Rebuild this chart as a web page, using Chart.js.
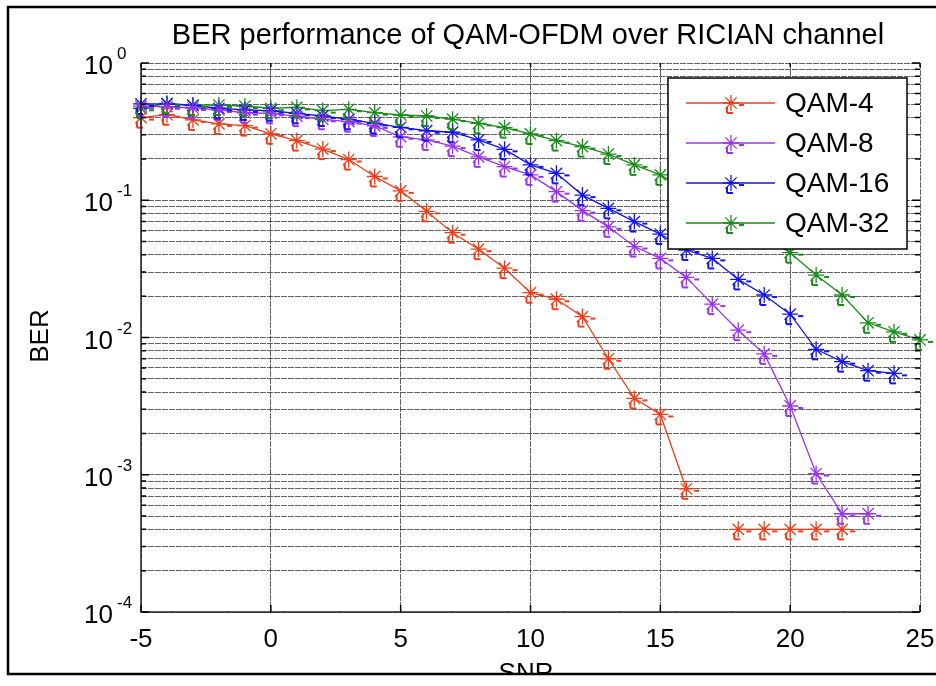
<!DOCTYPE html>
<html>
<head>
<meta charset="utf-8">
<script src="https://cdn.jsdelivr.net/npm/chart.js@4.4.0/dist/chart.umd.min.js"></script>
<style>
  html, body { margin: 0; padding: 0; background: #fff; }
  #wrap { width: 936px; height: 686px; }
</style>
</head>
<body>
<div id="wrap"><canvas id="berChart" width="936" height="686"></canvas></div>
<script>
// SNR values (dB)
var snr = [-5, -4, -3, -2, -1, 0, 1, 2, 3, 4, 5, 6, 7, 8, 9, 10, 11, 12, 13, 14, 15, 16, 17, 18, 19, 20, 21, 22, 23, 24, 25];

// BER, null where nothing is plotted
var qam4 = [0.40, 0.42, 0.385, 0.36, 0.35, 0.305, 0.272, 0.236, 0.198, 0.149, 0.117, 0.083, 0.058, 0.044, 0.032, 0.0212, 0.019, 0.0142, 0.0070, 0.0036, 0.00275, 0.00079, null, 0.0004, 0.0004, 0.0004, 0.0004, 0.0004, null, null, null];
var qam8 = [0.485, 0.48, 0.47, 0.455, 0.434, 0.43, 0.41, 0.389, 0.374, 0.348, 0.29, 0.275, 0.248, 0.207, 0.176, 0.153, 0.1155, 0.084, 0.064, 0.046, 0.0377, 0.0274, 0.0175, 0.0113, 0.0076, 0.00317, 0.00102, 0.00052, 0.00052, null, null];
var qam16 = [0.503, 0.503, 0.49, 0.468, 0.455, 0.449, 0.43, 0.411, 0.389, 0.363, 0.34, 0.321, 0.313, 0.275, 0.235, 0.181, 0.157, 0.109, 0.0873, 0.0699, 0.0567, 0.0434, 0.0377, 0.0265, 0.0204, 0.0148, 0.0082, 0.00667, 0.00573, 0.00548, null];
var qam32 = [0.468, 0.508, 0.494, 0.494, 0.486, 0.468, 0.475, 0.45, 0.46, 0.435, 0.418, 0.411, 0.39, 0.363, 0.338, 0.304, 0.272, 0.246, 0.217, 0.181, 0.153, 0.118, 0.092, 0.071, 0.054, 0.0415, 0.0285, 0.0204, 0.0128, 0.011, 0.0096];

var seriesNames = ["QAM-4", "QAM-8", "QAM-16", "QAM-32"];
var seriesColors = ["#ee3d1a", "#9933ee", "#1414f0", "#1a8a1a"];

var xTicks = [-5, 0, 5, 10, 15, 20, 25];
var yDecades = [-4, -3, -2, -1, 0];

// grid lines for the log axis: 1..9 x 10^n
var yGrid = [];
for (var d = -4; d < 0; d++) {
    for (var m = 1; m < 10; m++) yGrid.push(m * Math.pow(10, d));
}
yGrid.push(1);

var FONT = "'Liberation Sans', Arial, sans-serif";

function toPoints(arr) {
    var out = [];
    for (var i in snr) out.push({ x: snr[i], y: arr[i] });
    return out;
}

var allSeries = [qam4, qam8, qam16, qam32];
var datasets = [];
for (var k = 0; k < allSeries.length; k++) {
    datasets.push({
        label: seriesNames[k],
        data: toPoints(allSeries[k]),
        borderColor: seriesColors[k],
        backgroundColor: seriesColors[k],
        borderWidth: 1.3,
        pointStyle: "star",
        pointRadius: 8,
        pointBorderWidth: 1.3,
        pointBorderColor: seriesColors[k],
        spanGaps: false,
        tension: 0,
        clip: false,
    });
}

var decor = {
    id: "decor",
    beforeDraw: function (chart) {
        var c = chart.ctx;
        c.save();
        c.fillStyle = "#fff";
        c.fillRect(0, 0, chart.width, chart.height);
        c.restore();
    },
    afterDatasetsDraw: function (chart) {
        // little dash shadows that sit next to each marker
        var c = chart.ctx;
        c.save();
        chart.data.datasets.forEach(function (ds, i) {
            var meta = chart.getDatasetMeta(i);
            c.fillStyle = ds.borderColor;
            meta.data.forEach(function (pt) {
                if (pt.skip) return;
                c.fillRect(pt.x + 8, pt.y + 1, 5, 2);
                c.fillRect(pt.x - 4, pt.y + 9, 6, 2);
                c.fillRect(pt.x - 5, pt.y + 4, 2, 6);
            });
        });
        c.restore();
    },
    afterDraw: function (chart) {
        var c = chart.ctx;
        var a = chart.chartArea;
        var xs = chart.scales.x;
        var ys = chart.scales.y;
        c.save();

        // axis box
        c.strokeStyle = "#222";
        c.lineWidth = 1.5;
        c.beginPath();
        c.moveTo(a.left, a.top);
        c.lineTo(a.left, a.bottom);
        c.lineTo(a.right, a.bottom);
        c.stroke();

        // inward ticks
        c.lineWidth = 1.5;
        c.strokeStyle = "#000";
        yGrid.forEach(function (v) {
            var y = ys.getPixelForValue(v);
            var len = Math.abs(Math.log10(v) - Math.round(Math.log10(v))) < 1e-6 ? 8 : 5;
            c.beginPath();
            c.moveTo(a.left, y); c.lineTo(a.left + len, y);
            c.moveTo(a.right, y); c.lineTo(a.right - len, y);
            c.stroke();
        });
        xTicks.forEach(function (v) {
            var x = xs.getPixelForValue(v);
            c.beginPath();
            c.moveTo(x, a.bottom); c.lineTo(x, a.bottom - 7);
            c.moveTo(x, a.top); c.lineTo(x, a.top + 4);
            c.stroke();
        });

        // tick labels
        c.fillStyle = "#000";
        c.textBaseline = "alphabetic";
        c.font = "26px " + FONT;
        c.textAlign = "center";
        xTicks.forEach(function (v) {
            c.fillText(String(v), xs.getPixelForValue(v), a.bottom + 35);
        });
        yDecades.forEach(function (p) {
            var y = ys.getPixelForValue(Math.pow(10, p));
            c.font = "26px " + FONT;
            c.textAlign = "right";
            c.fillText("10", 113, y + 11);
            c.font = "17px " + FONT;
            c.textAlign = "left";
            c.fillText(String(p), 117, y - 4);
        });

        // title and axis titles
        c.font = "29px " + FONT;
        c.textAlign = "center";
        c.fillText("BER performance of QAM-OFDM over RICIAN channel", 528, 44);
        c.font = "26px " + FONT;
        c.fillText("SNR", 526, 681);
        c.save();
        c.translate(48, 336);
        c.rotate(-Math.PI / 2);
        c.fillText("BER", 0, 0);
        c.restore();

        // legend
        var lx = 668, ly = 78, lw = 239, lh = 171;
        c.fillStyle = "#fff";
        c.fillRect(lx, ly, lw, lh);
        c.strokeStyle = "#000";
        c.lineWidth = 1.5;
        c.strokeRect(lx, ly, lw, lh);
        seriesNames.forEach(function (name, i) {
            var yy = 103 + i * 40;
            var col = seriesColors[i];
            c.strokeStyle = col;
            c.fillStyle = col;
            c.lineWidth = 1.3;
            c.beginPath();
            c.moveTo(686, yy); c.lineTo(775, yy);
            c.stroke();
            Chart.helpers.drawPoint(c, { pointStyle: "star", radius: 8, rotation: 0, borderWidth: 1.3 }, 731, yy);
            c.fillRect(739, yy + 1, 5, 2);
            c.fillRect(727, yy + 9, 6, 2);
            c.fillRect(726, yy + 4, 2, 6);
            c.fillStyle = "#000";
            c.font = "28px " + FONT;
            c.textAlign = "left";
            c.textBaseline = "middle";
            c.fillText(name, 785, yy + 1);
        });

        // outer frame (cuts the bottom of the x label)
        c.fillStyle = "#fff";
        c.fillRect(0, 675, chart.width, chart.height - 675);
        c.strokeStyle = "#000";
        c.lineWidth = 2.5;
        c.beginPath();
        c.moveTo(chart.width + 5, 7);
        c.lineTo(8, 7);
        c.lineTo(8, 674);
        c.lineTo(chart.width + 5, 674);
        c.stroke();
        c.restore();
    },
};

var ctx = document.getElementById("berChart").getContext("2d");
var chart = new Chart(ctx, {
    type: "line",
    data: { datasets: datasets },
    options: {
        responsive: false,
        animation: false,
        layout: { padding: { left: 141, right: 16, top: 63, bottom: 74 } },
        plugins: {
            legend: { display: false },
            title: { display: false },
            tooltip: { enabled: false },
        },
        scales: {
            x: {
                type: "linear",
                min: -5,
                max: 25,
                afterBuildTicks: function (axis) {
                    axis.ticks = xTicks.map(function (v) { return { value: v }; });
                },
                ticks: { display: false },
                grid: { color: "rgba(60,60,60,0.8)", lineWidth: 1, drawTicks: false },
                border: { display: false, dash: [6, 1] },
            },
            y: {
                type: "logarithmic",
                min: 1e-4,
                max: 1,
                afterBuildTicks: function (axis) {
                    axis.ticks = yGrid.map(function (v) { return { value: v }; });
                },
                ticks: { display: false },
                grid: { color: "rgba(60,60,60,0.8)", lineWidth: 1, drawTicks: false },
                border: { display: false, dash: [6, 1] },
            },
        },
    },
    plugins: [decor],
});
</script>
</body>
</html>
